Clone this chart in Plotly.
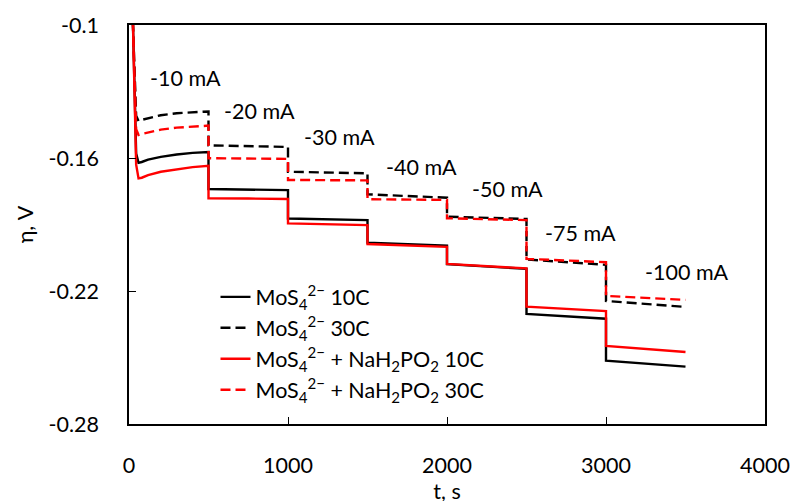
import plotly.graph_objects as go

# time points (s)
t = [0, 25, 45, 60, 80, 120, 200, 300, 400, 500,
     500, 750, 1000,
     1000, 1250, 1500,
     1500, 1750, 2000,
     2000, 2250, 2500,
     2500, 2750, 3000,
     3000, 3250, 3500]

mos4_10c = [-0.085, -0.100, -0.158, -0.1622, -0.1618, -0.1607, -0.1595, -0.1584, -0.1577, -0.1573,
            -0.1740, -0.1742, -0.1745,
            -0.1873, -0.1876, -0.1880,
            -0.1982, -0.1988, -0.1995,
            -0.2079, -0.2090, -0.2100,
            -0.2303, -0.2314, -0.2325,
            -0.2514, -0.2528, -0.2541]

mos4_30c = [-0.085, -0.100, -0.141, -0.1433, -0.1428, -0.1420, -0.1407, -0.1398, -0.1393, -0.1390,
            -0.1543, -0.1546, -0.1550,
            -0.1662, -0.1665, -0.1669,
            -0.1764, -0.1771, -0.1779,
            -0.1865, -0.1870, -0.1875,
            -0.2058, -0.2070, -0.2082,
            -0.2245, -0.2259, -0.2272]

mos4_p_10c = [-0.085, -0.100, -0.163, -0.1692, -0.1689, -0.1677, -0.1662, -0.1650, -0.1641, -0.1635,
              -0.1782, -0.1783, -0.1785,
              -0.1895, -0.1899, -0.1903,
              -0.1988, -0.1995, -0.2001,
              -0.2078, -0.2088, -0.2098,
              -0.2271, -0.2281, -0.2291,
              -0.2448, -0.2462, -0.2475]

mos4_p_30c = [-0.085, -0.100, -0.147, -0.1496, -0.1492, -0.1485, -0.1472, -0.1463, -0.1457, -0.1454,
              -0.1601, -0.1602, -0.1604,
              -0.1699, -0.1700, -0.1701,
              -0.1786, -0.1788, -0.1789,
              -0.1872, -0.1876, -0.1880,
              -0.2055, -0.2062, -0.2070,
              -0.2222, -0.2231, -0.2240]

# current step labels
step_labels = ["-10 mA", "-20 mA", "-30 mA", "-40 mA", "-50 mA", "-75 mA", "-100 mA"]
label_t = [120, 584, 1091, 1604, 2146, 2604, 3230]
label_eta = [-0.1239, -0.1388, -0.1504, -0.1639, -0.1741, -0.1940, -0.2115]

y_tick_vals = [-0.28, -0.22, -0.16, -0.1]
y_tick_text = ["-0.28", "-0.22", "-0.16", "-0.1"]
x_tick_vals = [0, 1000, 2000, 3000, 4000]

FONT = "Lato"
FS = 21.5
DASH = "10px,5px"

fig = go.Figure()
series = [
    ("MoS<sub>4</sub><sup>2−</sup> 10C", mos4_10c, "#000000", "solid"),
    ("MoS<sub>4</sub><sup>2−</sup> 30C", mos4_30c, "#000000", DASH),
    ("MoS<sub>4</sub><sup>2−</sup> + NaH<sub>2</sub>PO<sub>2</sub> 10C", mos4_p_10c, "#ff0000", "solid"),
    ("MoS<sub>4</sub><sup>2−</sup> + NaH<sub>2</sub>PO<sub>2</sub> 30C", mos4_p_30c, "#ff0000", DASH),
]
for name, vals, col, dash in series:
    fig.add_trace(go.Scatter(x=t, y=vals, mode="lines", name=name,
                             line=dict(color=col, width=2.4, dash=dash)))

for txt, xv, yv in zip(step_labels, label_t, label_eta):
    fig.add_annotation(x=xv, y=yv, xref="x", yref="y", text=txt, showarrow=False,
                       xanchor="left", yanchor="middle",
                       font=dict(family=FONT, size=FS, color="#000000"))

# page body has an 8px margin, so the figure is offset to compensate
fig.update_layout(
    width=794, height=512,
    margin=dict(l=121, r=34, t=17, b=96),
    paper_bgcolor="white", plot_bgcolor="white",
    font=dict(family=FONT, size=FS, color="#000000"),
    showlegend=True,
    legend=dict(x=0.136, y=0.370, xanchor="left", yanchor="top",
                bgcolor="rgba(0,0,0,0)", font=dict(family=FONT, size=21.5),
                tracegroupgap=0),
    xaxis=dict(range=[0, 4000], tickvals=x_tick_vals, ticks="inside", ticklen=7,
               tickcolor="#000000", showline=True, linecolor="#000000", linewidth=1.5,
               mirror=True, showgrid=False, zeroline=False, automargin=True,
               ticklabelstandoff=21,
               title=dict(text="t, s", standoff=2, font=dict(family=FONT, size=FS))),
    yaxis=dict(range=[-0.28, -0.1], tickvals=y_tick_vals, ticktext=y_tick_text,
               ticks="inside", ticklen=7, tickcolor="#000000",
               showline=True, linecolor="#000000", linewidth=1.5,
               mirror=True, showgrid=False, zeroline=False, automargin=False,
               ticklabelstandoff=24,
               title=dict(text="η, V", standoff=9, font=dict(family=FONT, size=FS))),
)

fig.write_html("out.html")
